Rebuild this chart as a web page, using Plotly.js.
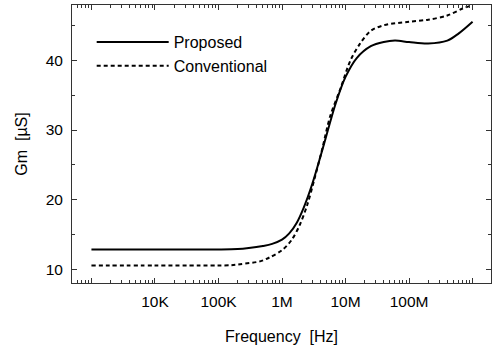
<!DOCTYPE html>
<html>
<head>
<meta charset="utf-8">
<script src="https://cdn.plot.ly/plotly-3.0.1.min.js"></script>
<style>html,body{margin:0;padding:0;background:#fff;}#chart{width:492px;height:349px;}</style>
</head>
<body>
<div id="chart"></div>
<script>
// Frequency (Hz) and Gm (µS)
const propFreq = [1e3, 1e4, 5e4, 1e5, 2e5, 3e5, 5e5, 7e5, 1e6, 1.3e6, 1.7e6, 2.2e6, 3e6, 4.3e6, 7e6, 1e7, 1.5e7, 2.5e7, 4e7, 6e7, 1e8, 2e8, 4e8, 6e8, 1e9];
const propGm   = [12.9, 12.9, 12.9, 12.9, 12.95, 13.1, 13.4, 13.7, 14.3, 15.2, 16.7, 18.9, 22.3, 27.1, 33.8, 37.6, 40.3, 42.0, 42.6, 42.8, 42.6, 42.4, 42.8, 43.8, 45.5];

const convFreq = [1e3, 1e4, 5e4, 1e5, 1.6e5, 2.2e5, 4.5e5, 6.5e5, 1e6, 1.4e6, 1.9e6, 2.5e6, 3.2e6, 4.3e6, 5.7e6, 8.3e6, 1.2e7, 1.7e7, 2.5e7, 4e7, 1e8, 2e8, 4e8, 7e8, 1e9];
const convGm   = [10.6, 10.6, 10.6, 10.6, 10.65, 10.8, 11.2, 11.8, 12.8, 14.2, 16.4, 19.3, 22.8, 27.3, 31.9, 35.9, 40.0, 42.4, 44.2, 45.0, 45.5, 45.8, 46.4, 47.4, 47.9];

const xTickVals = [1e3, 1e4, 1e5, 1e6, 1e7, 1e8, 1e9];
const xTickText = ['', '10K', '100K', '1M', '10M', '100M', ''];

const FONT = 'Liberation Sans, Arial, sans-serif';

const traces = [
  {x: propFreq, y: propGm, name: 'Proposed', type: 'scatter', mode: 'lines',
   line: {color: '#000', width: 2, shape: 'spline', smoothing: 0.9}},
  {x: convFreq, y: convGm, name: 'Conventional', type: 'scatter', mode: 'lines',
   line: {color: '#000', width: 2, dash: '4px,3px', shape: 'spline', smoothing: 0.9}}
];

const layout = {
  width: 492, height: 349,
  margin: {l: 72, r: 1, t: 5, b: 66},
  paper_bgcolor: '#fff', plot_bgcolor: '#fff',
  font: {family: FONT, color: '#000', size: 15.5},
  showlegend: true,
  legend: {x: 0.047, y: 0.928, xanchor: 'left', yanchor: 'top', bgcolor: 'rgba(0,0,0,0)',
           font: {family: FONT, size: 16, color: '#000'}, itemwidth: 72, tracegroupgap: 0},
  xaxis: {
    type: 'log', range: [2.694, 9.29],
    tickvals: xTickVals, ticktext: xTickText,
    ticks: 'inside', ticklen: 5, tickwidth: 1, tickcolor: '#333',
    showline: true, linecolor: '#333', linewidth: 1, mirror: 'allticks',
    showgrid: false, zeroline: false, ticklabelstandoff: 4,
    minor: {dtick: 'D1', ticks: 'inside', ticklen: 3, tickcolor: '#333', showgrid: false},
    title: {text: 'Frequency\u00a0\u00a0[Hz]', font: {family: FONT, size: 16}, standoff: 22}
  },
  yaxis: {
    range: [8.1, 47.9], dtick: 10, tick0: 0,
    ticks: 'inside', ticklen: 5, tickwidth: 1, tickcolor: '#333',
    showline: true, linecolor: '#333', linewidth: 1, mirror: 'allticks',
    showgrid: false, zeroline: false, ticklabelstandoff: 5,
    minor: {dtick: 5, ticks: 'inside', ticklen: 3, tickcolor: '#333', showgrid: false},
    title: {text: 'Gm\u00a0\u00a0[\u00b5S]', font: {family: FONT, size: 16}, standoff: 14}
  }
};

Plotly.newPlot('chart', traces, layout, {staticPlot: true, displayModeBar: false});
</script>
</body>
</html>
